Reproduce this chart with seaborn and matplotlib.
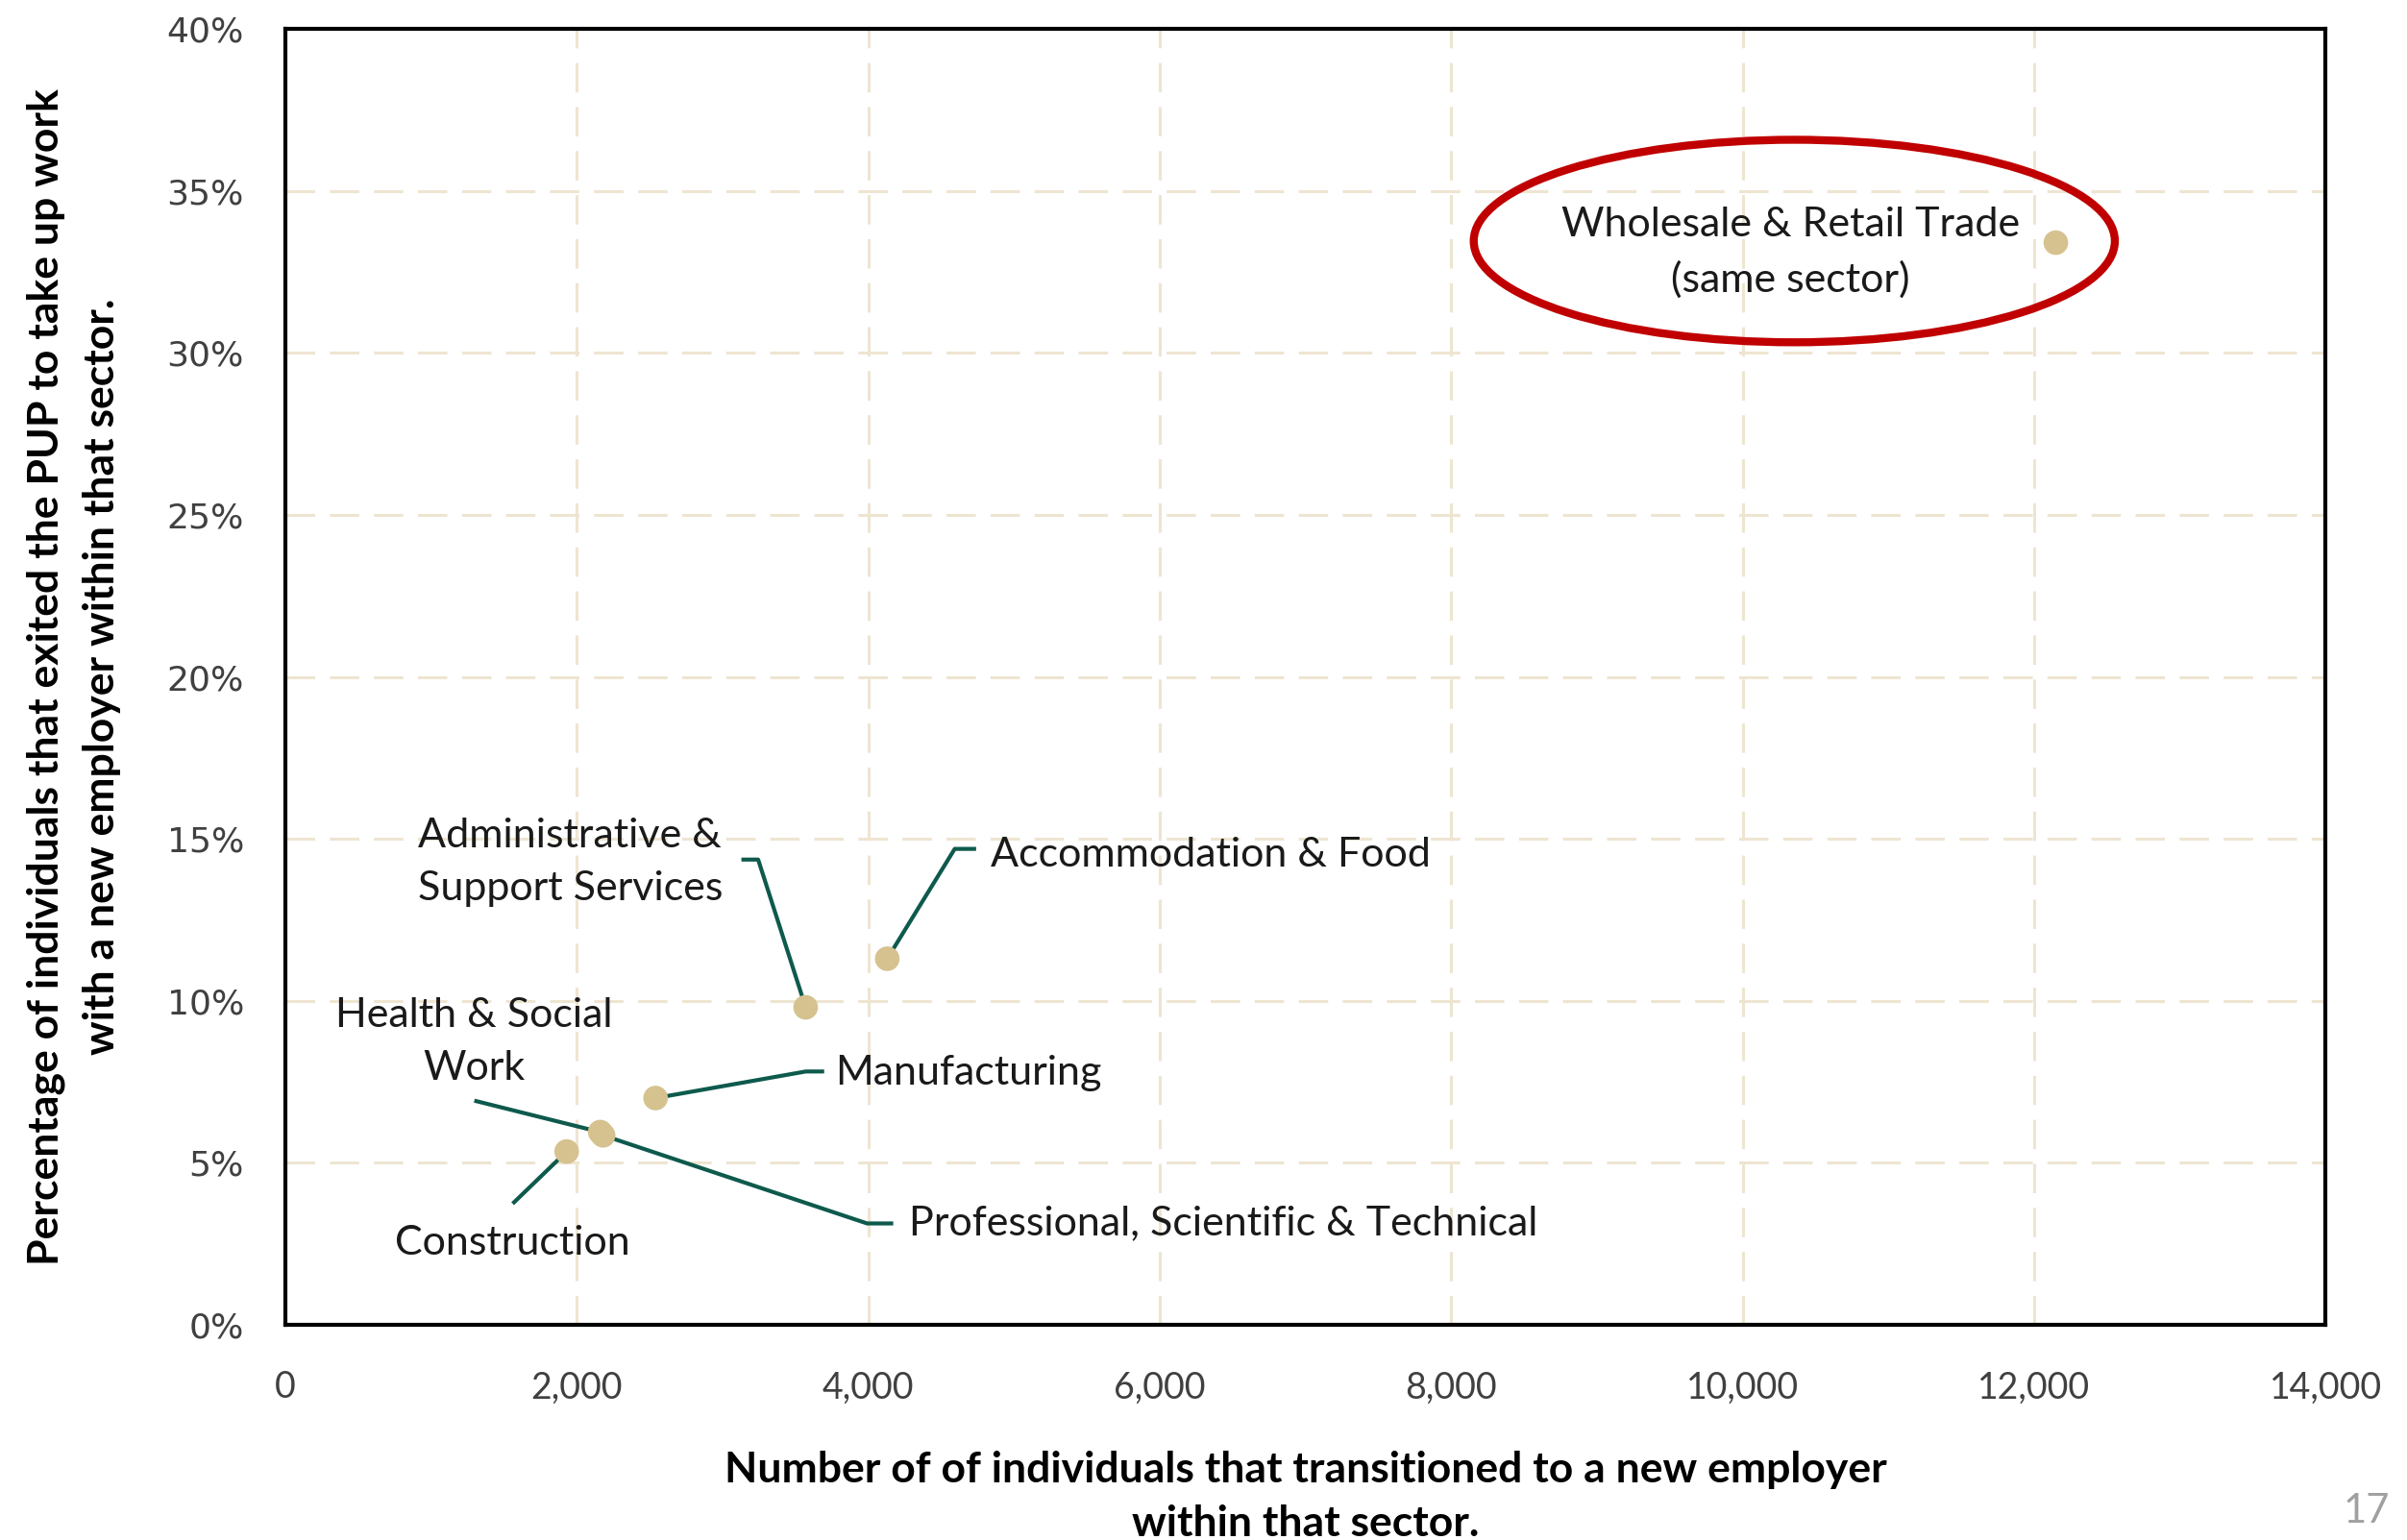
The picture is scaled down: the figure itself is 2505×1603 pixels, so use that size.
import matplotlib
matplotlib.use("Agg")
import matplotlib.pyplot as plt
from matplotlib.patches import Ellipse
from matplotlib.ticker import FuncFormatter, MultipleLocator
import seaborn as sns
import pandas as pd

# data
sectors = [
    "Wholesale & Retail Trade",
    "Accommodation & Food",
    "Administrative & Support Services",
    "Manufacturing",
    "Health & Social Work",
    "Professional, Scientific & Technical",
    "Construction",
]
transitions = [12150, 4130, 3570, 2540, 2160, 2180, 1930]
pct_same_sector = [33.4, 11.3, 9.8, 7.0, 5.95, 5.85, 5.35]

# label text and where it sits (data coords), leader line bends
labels = {
    "Wholesale & Retail Trade": ("Wholesale & Retail Trade\n(same sector)", 10330, 33.1, "center"),
    "Accommodation & Food": ("Accommodation & Food", 4840, 14.5, "left"),
    "Administrative & Support Services": ("Administrative &\nSupport Services", 910, 14.27, "left"),
    "Manufacturing": ("Manufacturing", 3770, 7.77, "left"),
    "Health & Social Work": ("Health & Social\nWork", 1296, 8.72, "center"),
    "Professional, Scientific & Technical": ("Professional, Scientific & Technical", 4277, 3.13, "left"),
    "Construction": ("Construction", 1560, 2.51, "center"),
}
leaders = {
    "Accommodation & Food": [(4593, 14.69), (4740, 14.69)],
    "Administrative & Support Services": [(3244, 14.36), (3129, 14.36)],
    "Manufacturing": [(3571, 7.82), (3697, 7.82)],
    "Health & Social Work": [(1296, 6.92)],
    "Professional, Scientific & Technical": [(3992, 3.13), (4171, 3.13)],
    "Construction": [(1559, 3.74)],
}

df = pd.DataFrame({"sector": sectors, "n": transitions, "pct": pct_same_sector})

FONT = "Lato"
plt.rcParams["font.family"] = [FONT, "DejaVu Sans"]

fig = plt.figure(figsize=(25.05, 16.03), dpi=100)
ax = fig.add_axes([0.1186, 0.1397, 0.8475, 0.8416])

grid_col = "#EEE5D1"
for v in range(2000, 14000, 2000):
    ax.axvline(v, color=grid_col, lw=2.2, ls=(0, (10, 5)), zorder=0)
for v in range(5, 40, 5):
    ax.axhline(v, color=grid_col, lw=2.2, ls=(0, (10, 5)), zorder=0)

# leader lines
for sec, pts in leaders.items():
    row = df[df["sector"] == sec].iloc[0]
    xs = [row["n"]] + [p[0] for p in pts]
    ys = [row["pct"]] + [p[1] for p in pts]
    ax.plot(xs, ys, color="#0E5A4C", lw=3, zorder=2, solid_capstyle="butt")

sns.scatterplot(data=df, x="n", y="pct", ax=ax, s=340, color="#D5C28F",
                edgecolor="none", zorder=3, legend=False)

for sec, (txt, tx, ty, ha) in labels.items():
    ax.text(tx, ty, txt, ha=ha, va="center", fontsize=31, color="#1a1a1a",
            linespacing=1.55, multialignment=ha, zorder=4)

ax.add_patch(Ellipse((10355, 33.45), 4400, 6.25, fill=False, ec="#C00000",
                     lw=6, zorder=4))

ax.set_xlim(0, 14000)
ax.set_ylim(0, 40)
ax.xaxis.set_major_locator(MultipleLocator(2000))
ax.yaxis.set_major_locator(MultipleLocator(5))
ax.xaxis.set_major_formatter(FuncFormatter(lambda v, p: f"{int(v):,}"))
ax.yaxis.set_major_formatter(FuncFormatter(lambda v, p: f"{int(v)}%"))
ax.tick_params(axis="both", length=0, labelsize=27, labelcolor="#404040")
ax.tick_params(axis="x", pad=34)
ax.tick_params(axis="y", pad=31)
for lab in ax.get_yticklabels():
    lab.set_family("DejaVu Sans")
    lab.set_fontsize(26)

for s in ax.spines.values():
    s.set_linewidth(3)
    s.set_color("black")

ax.set_xlabel("Number of of individuals that transitioned to a new employer\nwithin that sector.",
              fontsize=32, fontweight="bold", labelpad=34, linespacing=1.5)
ax.set_ylabel("Percentage of individuals that exited the PUP to take up work\nwith a new employer within that sector.",
              fontsize=32, fontweight="bold", labelpad=34, linespacing=1.55)

fig.text(0.983, 0.019, "17", fontsize=30, color="#A0A0A0", ha="center", va="center")

fig.savefig("out.png", dpi=100, facecolor="white")
